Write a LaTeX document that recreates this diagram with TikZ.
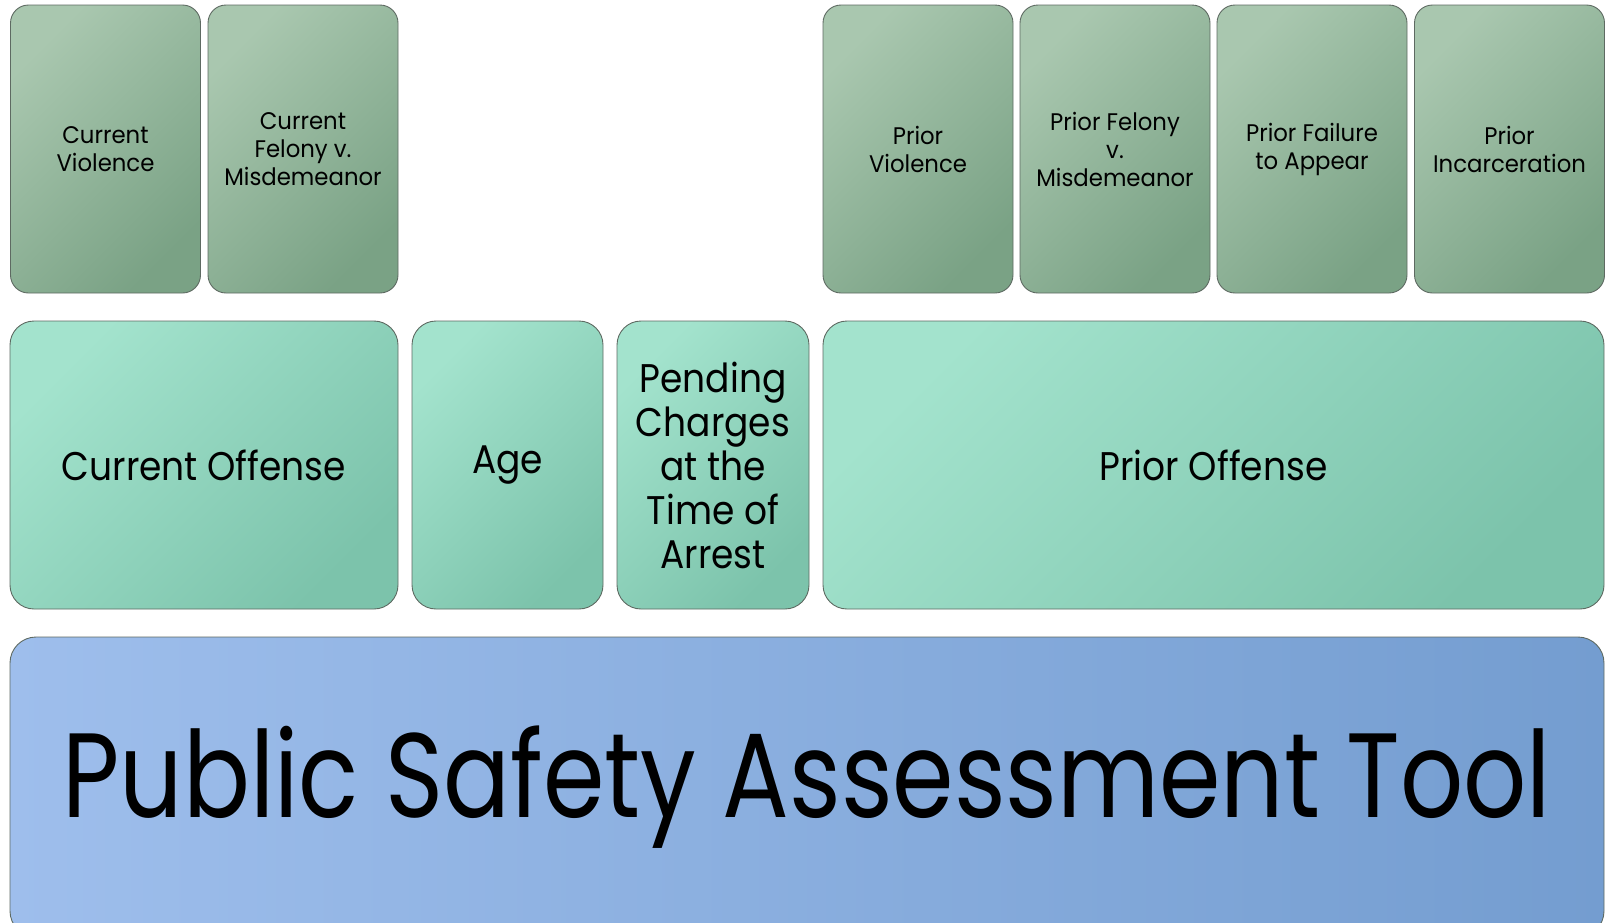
\documentclass[tikz,border=0pt]{standalone}
\usepackage{fontspec}
\setmainfont{Poppins}
\newfontfamily\smallfont{Poppins}[FakeStretch=0.95]
\newfontfamily\midfont{Poppins}[FakeStretch=0.9]
\newfontfamily\titlefont{Poppins}[FakeStretch=0.825]
\definecolor{sageL}{HTML}{A9C7AF}
\definecolor{sageD}{HTML}{7AA285}
\definecolor{mintL}{HTML}{A3E3CD}
\definecolor{mintD}{HTML}{7CC3AB}
\definecolor{blueL}{HTML}{9EBEEC}
\definecolor{blueD}{HTML}{749DD0}
\definecolor{edge}{HTML}{5E6A62}
\begin{document}
\begin{tikzpicture}[x=1pt,y=-1pt,
  box/.style={draw=edge, line width=0.9pt, inner sep=0pt, align=center, text=black},
  sagebox/.style={box, rounded corners=18pt, top color=sageL, bottom color=sageD, shading angle=45,
     minimum width=190pt, minimum height=288pt, font=\smallfont\fontsize{24}{28}\selectfont},
  mintbox/.style={box, rounded corners=24pt, top color=mintL, bottom color=mintD, shading angle=45,
     minimum height=288pt, font=\midfont\fontsize{40}{44}\selectfont},
  bluebox/.style={box, rounded corners=26pt, top color=blueL, bottom color=blueD, shading angle=90,
     minimum width=1594pt, minimum height=300pt, font=\titlefont\fontsize{120}{130}\selectfont}]
\useasboundingbox (0,0) rectangle (1613,922);
\begin{scope}
\clip (0,0) rectangle (1613,922);
% row 1
\node[sagebox] (cv)  at (105.5,149) {Current\\Violence};
\node[sagebox] (cfm) at (303,149) {Current\\Felony v.\\Misdemeanor};
\node[sagebox] (pv)  at (918,149) {Prior\\Violence};
\node[sagebox] (pfm) at (1115,149) {Prior Felony\\v.\\Misdemeanor};
\node[sagebox] (pfa) at (1312,149) {Prior Failure\\to Appear};
\node[sagebox] (pi)  at (1509.5,149) {Prior\\Incarceration};
% row 2
\node[mintbox, minimum width=388pt] (co) at (204,465) {Current Offense};
\node[mintbox, minimum width=191pt] (age) at (507.5,465) {Age};
\node[mintbox, minimum width=192pt] (pend) at (713,465) {Pending\\Charges\\at the\\Time of\\Arrest};
\node[mintbox, minimum width=781pt] (po) at (1213.5,465) {Prior Offense};
% row 3
\node[bluebox] (psa) at (807,787) {Public Safety Assessment Tool};
\end{scope}
\end{tikzpicture}
\end{document}
